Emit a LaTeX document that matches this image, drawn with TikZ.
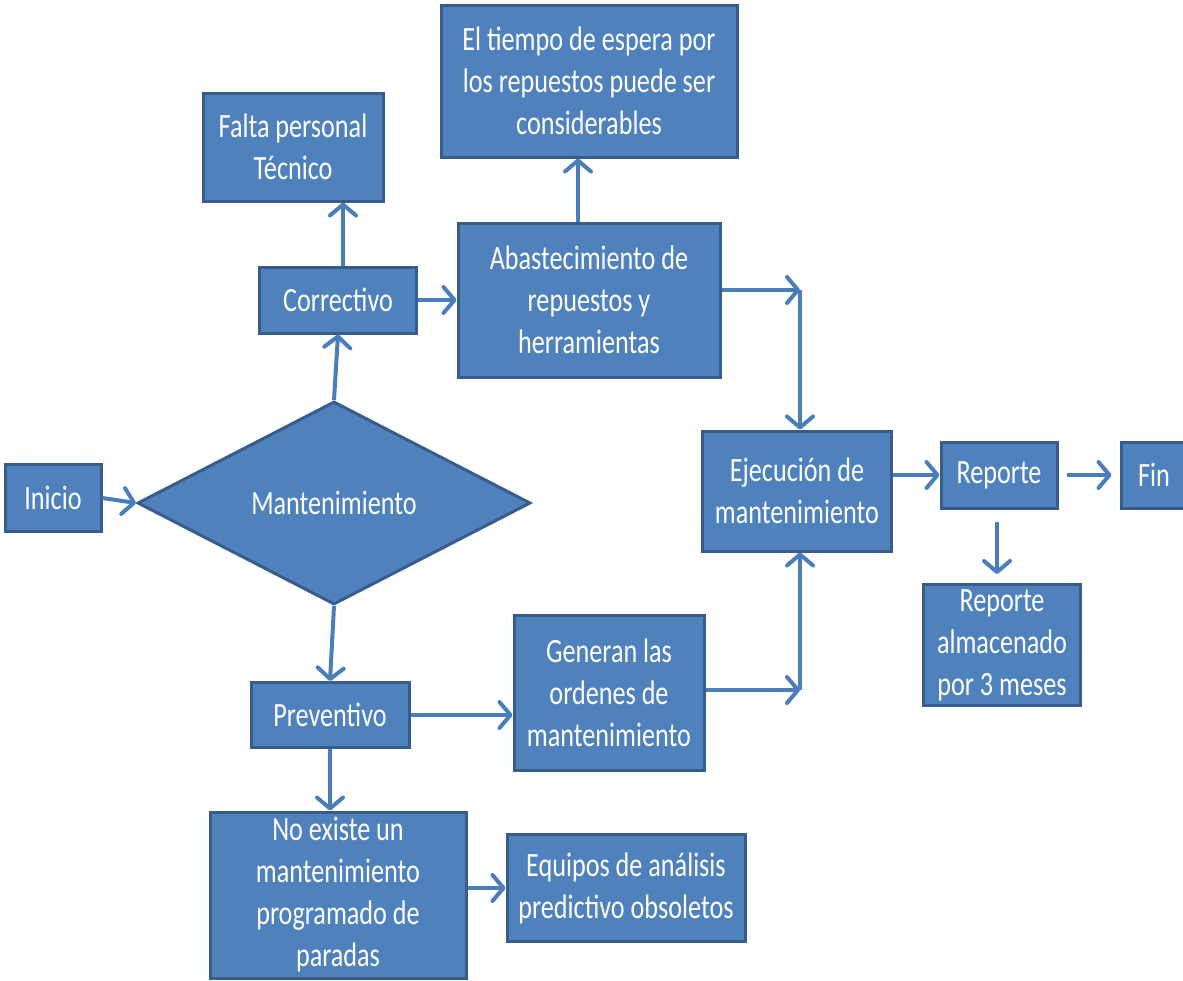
\documentclass[tikz,border=0pt]{standalone}
\usepackage{fontspec}
\setmainfont{Carlito}[FakeStretch=0.77]
\usetikzlibrary{shapes.geometric, arrows.meta}
\definecolor{boxfill}{HTML}{4F81BD}
\definecolor{boxline}{HTML}{385D8A}
\definecolor{arrowcol}{HTML}{4A7EBB}
\tikzstyle{block} = [rectangle, draw=boxline, line width=3pt, fill=boxfill, text=white, align=center, inner sep=0pt, font=\fontsize{34}{42}\selectfont]
\tikzstyle{decision} = [diamond, draw=boxline, line width=3pt, fill=boxfill, text=white, inner sep=0pt, font=\fontsize{34}{42}\selectfont]
\tikzstyle{line} = [draw=arrowcol, line width=4pt, -{Straight Barb[length=11pt,width=26pt,round]}]

\begin{document}
\begin{tikzpicture}[x=1pt, y=-1pt]
  \useasboundingbox (0,0) rectangle (1183,980);
  \node [block, minimum width=96, minimum height=67]   (ini)    at (53,498)   {Inicio};
  \node [decision, minimum width=393, minimum height=203] (mant) at (334,503) {Mantenimiento};
  \node [block, minimum width=157, minimum height=66]  (corr)   at (338,300)  {Correctivo};
  \node [block, minimum width=180, minimum height=108] (falta)  at (293,147)  {Falta personal\\Técnico};
  \node [block, minimum width=296, minimum height=152] (espera) at (589,81)   {El tiempo de espera por\\los repuestos puede ser\\considerables};
  \node [block, minimum width=262, minimum height=154] (abast)  at (589,300)  {Abastecimiento de\\repuestos y\\herramientas};
  \node [block, minimum width=189, minimum height=120] (ejec)   at (797,491)  {Ejecución de\\mantenimiento};
  \node [block, minimum width=116, minimum height=66]  (rep)    at (999,475)  {Reporte};
  \node [block, minimum width=66, minimum height=66]   (fin)    at (1154,475) {Fin};
  \node [block, minimum width=157, minimum height=121] (alm)    at (1002,645) {Reporte\\almacenado\\por 3 meses};
  \node [block, minimum width=158, minimum height=65]  (prev)   at (330,715)  {Preventivo};
  \node [block, minimum width=190, minimum height=155] (gen)    at (609,693)  {Generan las\\ordenes de\\mantenimiento};
  \node [block, minimum width=256, minimum height=166] (noex)   at (338,895)  {No existe un\\mantenimiento\\programado de\\paradas};
  \node [block, minimum width=238, minimum height=107] (equip)  at (626,888)  {Equipos de análisis\\predictivo obsoletos};
  \coordinate (c1) at (800,290);
  \coordinate (c2) at (800,690);
  \path [line] (ini.east) -- (mant.west);
  \path [line] (mant.north) -- (corr.south);
  \path [line] ([xshift=5pt]corr.north) -- ([xshift=5pt]corr.north |- falta.south);
  \path [line] (corr.east) -- (corr -| abast.west);
  \path [line] ([xshift=-11pt]abast.north) -- ([xshift=-11pt]abast.north |- espera.south);
  \path [line] ([yshift=10pt]abast.east) -- (c1);
  \path [line] (c1) -- (c1 |- ejec.north);
  \path [line] ([yshift=3pt]gen.east) -- (c2);
  \path [line] (c2) -- (c2 |- ejec.south);
  \path [line] (ejec.east |- rep) -- (rep.west);
  \path [line, shorten <=8pt, shorten >=8pt] (rep.east) -- (fin.west);
  \path [line, shorten <=12pt, shorten >=9pt] ([xshift=-2pt]rep.south) -- ([xshift=-2pt]rep.south |- alm.north);
  \path [line] (mant.south) -- (prev.north);
  \path [line] (prev.east) -- (prev -| gen.west);
  \path [line] (prev.south) -- (prev.south |- noex.north);
  \path [line] (noex.east |- equip) -- (equip.west);
\end{tikzpicture}
\end{document}
